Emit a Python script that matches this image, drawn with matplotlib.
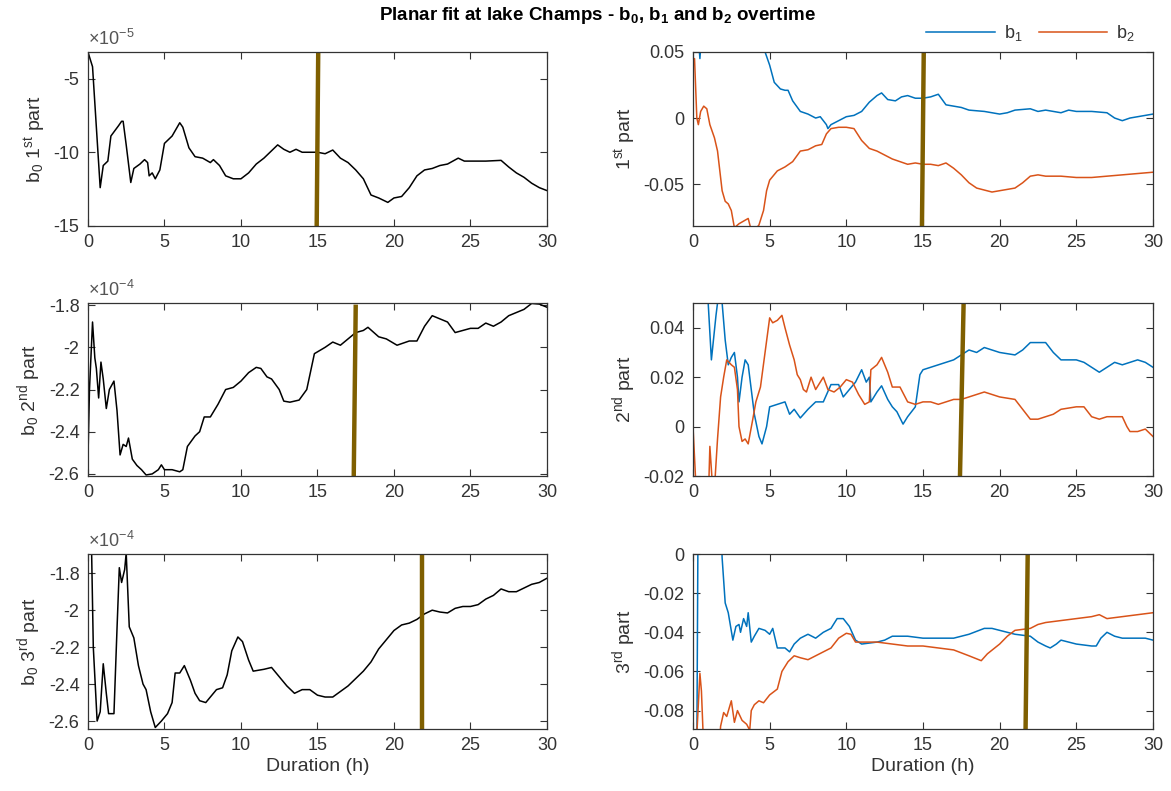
import matplotlib.pyplot as plt
from matplotlib.lines import Line2D

plt.rcParams['font.family'] = ['Liberation Sans', 'DejaVu Sans']
plt.rcParams['mathtext.fontset'] = 'custom'
plt.rcParams['mathtext.rm'] = 'Liberation Sans'
plt.rcParams['mathtext.it'] = 'Liberation Sans'
plt.rcParams['mathtext.bf'] = 'Liberation Sans:bold'
plt.rcParams['axes.unicode_minus'] = False

# b0, 1st part (x 1e-5)
t_b0_1 = [0, 0.3, 0.8, 1.0, 1.3, 1.5, 2.0, 2.2, 2.3, 2.5, 2.8, 3.0, 3.4, 3.7, 3.9, 4.0, 4.2, 4.4, 4.7,
          5.0, 5.5, 6.0, 6.2, 6.6, 7.0, 7.5, 8.0, 8.2, 8.6, 9.0, 9.5, 10.0, 10.5, 11.0, 11.5, 12.0,
          12.4, 12.8, 13.2, 13.6, 14.0, 14.5, 15.0, 15.5, 16.0, 16.5, 17.0, 17.5, 18.0, 18.5, 19.0,
          19.6, 20.0, 20.5, 21.0, 21.5, 22.0, 22.5, 23.0, 23.5, 24.2, 24.6, 25.0, 26.0, 27.0, 27.5,
          28.0, 28.5, 29.0, 29.5, 30.0]
b0_1 = [-3.2, -4.2, -12.4, -10.9, -10.6, -8.9, -8.2, -7.9, -7.9, -9.5, -12.05, -11.1, -10.8, -10.5,
        -10.7, -11.6, -11.4, -11.8, -11.2, -9.4, -8.9, -8.0, -8.3, -9.7, -10.3, -10.4, -10.7, -10.5,
        -10.9, -11.6, -11.8, -11.8, -11.4, -10.8, -10.4, -9.9, -9.5, -9.8, -10.0, -9.8, -10.0, -10.0,
        -10.0, -10.1, -9.85, -10.4, -10.7, -11.2, -11.8, -12.9, -13.1, -13.4, -13.1, -13.0, -12.4,
        -11.6, -11.2, -11.1, -10.9, -10.8, -10.4, -10.6, -10.6, -10.6, -10.55, -11.0, -11.4, -11.7,
        -12.1, -12.4, -12.6]

# b0, 2nd part (x 1e-4)
t_b0_2 = [0, 0.1, 0.3, 0.45, 0.55, 0.7, 0.85, 1.0, 1.2, 1.4, 1.7, 1.9, 2.1, 2.3, 2.5, 2.65, 2.9, 3.2,
          3.5, 3.8, 4.2, 4.6, 4.8, 5.0, 5.5, 6.0, 6.2, 6.5, 7.0, 7.3, 7.6, 8.0, 8.5, 9.0, 9.5, 10.0,
          10.5, 11.0, 11.3, 11.7, 12.0, 12.5, 12.8, 13.2, 13.8, 14.3, 14.8, 15.5, 16.0, 16.5, 17.0,
          17.5, 18.0, 18.3, 19.0, 19.5, 20.2, 21.0, 21.5, 22.0, 22.5, 23.0, 23.5, 24.0, 24.5, 25.0,
          25.5, 26.0, 26.5, 27.0, 27.5, 28.0, 28.5, 29.0, 29.5, 30.0]
b0_2 = [-2.53, -2.2, -1.88, -2.05, -2.1, -2.24, -2.07, -2.15, -2.29, -2.2, -2.16, -2.3, -2.51, -2.46,
        -2.47, -2.43, -2.53, -2.56, -2.58, -2.605, -2.6, -2.58, -2.557, -2.58, -2.58, -2.59, -2.58,
        -2.47, -2.42, -2.40, -2.33, -2.33, -2.27, -2.2, -2.19, -2.16, -2.12, -2.095, -2.1, -2.14,
        -2.15, -2.2, -2.255, -2.26, -2.25, -2.2, -2.03, -2.0, -1.975, -1.99, -1.96, -1.93, -1.92,
        -1.905, -1.95, -1.96, -1.99, -1.97, -1.97, -1.90, -1.85, -1.865, -1.88, -1.93, -1.92, -1.91,
        -1.91, -1.885, -1.9, -1.88, -1.85, -1.835, -1.82, -1.792, -1.795, -1.81]

# b0, 3rd part (x 1e-4)
t_b0_3 = [0, 0.2, 0.35, 0.6, 0.8, 1.0, 1.2, 1.35, 1.7, 1.9, 2.05, 2.2, 2.4, 2.5, 2.7, 3.0, 3.3, 3.6,
          3.8, 4.1, 4.4, 4.8, 5.2, 5.5, 5.7, 6.0, 6.3, 6.7, 7.0, 7.3, 7.7, 8.0, 8.4, 8.8, 9.1, 9.4,
          9.8, 10.1, 10.5, 10.8, 11.5, 12.0, 12.5, 13.0, 13.5, 14.0, 14.5, 15.0, 15.5, 16.0, 16.5,
          17.0, 17.5, 18.0, 18.5, 19.0, 19.5, 20.0, 20.5, 21.0, 21.5, 22.0, 22.5, 23.0, 23.5, 24.0,
          24.5, 25.0, 25.5, 26.0, 26.5, 27.0, 27.5, 28.0, 28.5, 29.0, 29.5, 30.0]
b0_3 = [-1.5, -1.5, -2.2, -2.6, -2.55, -2.29, -2.45, -2.56, -2.56, -2.1, -1.77, -1.85, -1.78, -1.69,
        -2.09, -2.15, -2.3, -2.4, -2.43, -2.55, -2.635, -2.6, -2.56, -2.5, -2.34, -2.34, -2.3, -2.38,
        -2.45, -2.49, -2.5, -2.47, -2.43, -2.42, -2.35, -2.22, -2.145, -2.17, -2.27, -2.33, -2.32,
        -2.31, -2.36, -2.41, -2.45, -2.43, -2.43, -2.46, -2.47, -2.47, -2.44, -2.41, -2.37, -2.33,
        -2.28, -2.21, -2.16, -2.11, -2.08, -2.07, -2.05, -2.02, -2.0, -2.01, -2.015, -1.99, -1.98,
        -1.98, -1.97, -1.94, -1.92, -1.885, -1.9, -1.9, -1.88, -1.86, -1.85, -1.827]

# b1 / b2, 1st part
t_b1_1 = [0, 0.3, 0.45, 0.6, 1.0, 2.0, 3.0, 4.0, 4.6, 4.7, 5.0, 5.3, 5.7, 6.0, 6.2, 6.5, 7.0, 7.5,
          8.0, 8.3, 8.7, 8.8, 9.0, 9.5, 10.0, 10.5, 11.0, 11.5, 12.0, 12.3, 12.7, 13.2, 13.6, 14.0,
          14.5, 15.0, 15.5, 16.0, 16.5, 17.0, 17.5, 18.0, 19.0, 20.0, 20.5, 21.0, 22.0, 22.5, 23.0,
          24.0, 24.5, 25.0, 26.0, 27.0, 27.5, 28.0, 28.5, 29.0, 30.0]
b1_1 = [0.1, 0.07, 0.045, 0.07, 0.09, 0.1, 0.09, 0.07, 0.052, 0.05, 0.04, 0.027, 0.022, 0.021,
        0.021, 0.013, 0.005, 0.003, 0.0, 0.001, -0.005, -0.008, -0.005, -0.002, 0.001, 0.002,
        0.005, 0.012, 0.017, 0.019, 0.014, 0.013, 0.016, 0.017, 0.015, 0.015, 0.016, 0.018, 0.01,
        0.009, 0.008, 0.006, 0.005, 0.003, 0.004, 0.006, 0.007, 0.005, 0.006, 0.004, 0.006, 0.005,
        0.005, 0.004, 0.0, -0.002, 0.0, 0.001, 0.003]
t_b2_1 = [0, 0.1, 0.25, 0.35, 0.5, 0.7, 0.9, 1.1, 1.4, 1.6, 1.9, 2.1, 2.3, 2.5, 2.7, 3.0, 3.3, 3.6,
          3.8, 4.0, 4.3, 4.6, 4.8, 5.0, 5.5, 6.0, 6.5, 7.0, 7.5, 8.0, 8.4, 8.7, 9.0, 9.5, 10.0, 10.5,
          11.0, 11.5, 12.0, 12.5, 13.0, 13.5, 14.0, 14.5, 15.0, 15.5, 16.0, 16.5, 17.0, 17.5, 18.0,
          18.5, 19.5, 20.0, 20.5, 21.0, 21.5, 22.0, 22.5, 23.0, 24.0, 25.0, 26.0, 27.0, 28.0, 29.0,
          30.0]
b2_1 = [0.04, 0.045, 0.0, -0.005, 0.005, 0.009, 0.007, -0.005, -0.015, -0.025, -0.055, -0.063,
        -0.065, -0.07, -0.083, -0.08, -0.078, -0.076, -0.085, -0.085, -0.081, -0.07, -0.055, -0.047,
        -0.04, -0.037, -0.033, -0.025, -0.024, -0.021, -0.02, -0.012, -0.008, -0.007, -0.007, -0.008,
        -0.017, -0.023, -0.025, -0.028, -0.031, -0.033, -0.035, -0.034, -0.035, -0.035, -0.036,
        -0.034, -0.038, -0.043, -0.049, -0.053, -0.056, -0.055, -0.054, -0.053, -0.049, -0.044,
        -0.043, -0.044, -0.044, -0.045, -0.045, -0.044, -0.043, -0.042, -0.041]

# b1 / b2, 2nd part
t_b1_2 = [0, 0.9, 1.2, 1.5, 1.7, 1.9, 2.1, 2.3, 2.5, 2.7, 2.9, 3.0, 3.2, 3.4, 3.6, 3.8, 4.0, 4.3,
          4.5, 4.8, 5.0, 5.5, 6.0, 6.3, 6.6, 7.0, 7.5, 8.0, 8.5, 9.0, 9.5, 9.8, 10.2, 10.6, 11.0,
          11.3, 11.5, 11.6, 12.0, 12.3, 12.7, 13.0, 13.3, 13.7, 14.0, 14.5, 14.8, 15.0, 15.5, 16.0,
          16.5, 17.0, 17.5, 18.0, 18.5, 19.0, 20.0, 21.0, 21.5, 22.0, 23.0, 23.5, 24.0, 25.0, 25.5,
          26.0, 26.5, 27.0, 27.5, 28.0, 28.5, 29.0, 29.5, 30.0]
b1_2 = [0.08, 0.06, 0.027, 0.045, 0.055, 0.05, 0.035, 0.025, 0.028, 0.03, 0.02, 0.01, 0.02, 0.027,
        0.025, 0.015, 0.005, -0.004, -0.007, 0.0, 0.008, 0.009, 0.01, 0.005, 0.007, 0.0035, 0.007,
        0.01, 0.01, 0.017, 0.017, 0.012, 0.015, 0.018, 0.023, 0.018, 0.02, 0.01, 0.014, 0.0165,
        0.011, 0.008, 0.006, 0.001, 0.004, 0.008, 0.021, 0.023, 0.024, 0.025, 0.026, 0.027, 0.029,
        0.031, 0.03, 0.032, 0.03, 0.029, 0.031, 0.034, 0.034, 0.03, 0.027, 0.027, 0.026, 0.024,
        0.022, 0.024, 0.026, 0.025, 0.026, 0.027, 0.026, 0.024]
t_b2_2 = [0, 0.2, 1.0, 1.1, 1.25, 1.4, 1.6, 1.8, 2.0, 2.2, 2.5, 2.7, 2.9, 3.0, 3.2, 3.4, 3.6, 3.9,
          4.1, 4.4, 4.7, 5.0, 5.2, 5.5, 5.8, 6.0, 6.3, 6.6, 6.8, 7.0, 7.2, 7.4, 7.7, 8.0, 8.5, 8.8,
          9.2, 9.6, 10.0, 10.4, 10.8, 11.2, 11.5, 11.6, 12.0, 12.3, 12.7, 13.0, 13.5, 14.0, 14.5,
          15.0, 15.5, 16.0, 16.5, 17.0, 17.5, 18.0, 19.0, 19.5, 20.0, 21.0, 21.5, 22.0, 22.5, 23.0,
          23.5, 24.0, 25.0, 25.5, 26.0, 26.5, 27.0, 28.0, 28.3, 28.5, 29.0, 29.5, 30.0]
b2_2 = [0.0, -0.025, -0.03, -0.008, -0.022, -0.025, -0.005, 0.012, 0.02, 0.027, 0.025, 0.024, 0.015,
        0.0, -0.006, -0.005, -0.007, 0.003, 0.01, 0.016, 0.03, 0.044, 0.042, 0.043, 0.045, 0.04,
        0.033, 0.027, 0.021, 0.019, 0.015, 0.014, 0.02, 0.015, 0.02, 0.015, 0.014, 0.016, 0.019,
        0.018, 0.013, 0.009, 0.01, 0.023, 0.025, 0.028, 0.022, 0.016, 0.016, 0.01, 0.009, 0.01, 0.01,
        0.009, 0.01, 0.011, 0.011, 0.012, 0.014, 0.013, 0.012, 0.011, 0.007, 0.003, 0.003, 0.004,
        0.005, 0.007, 0.008, 0.008, 0.004, 0.003, 0.004, 0.004, 0.0, -0.002, -0.002, -0.001, -0.004]

# b1 / b2, 3rd part
t_b1_3 = [0.25, 0.35, 1.8, 1.9, 2.1, 2.3, 2.6, 2.8, 3.0, 3.1, 3.3, 3.5, 3.6, 3.8, 4.0, 4.3, 4.7, 5.0,
          5.2, 5.5, 6.0, 6.3, 6.6, 7.0, 7.5, 8.0, 8.5, 9.0, 9.4, 9.8, 10.2, 10.6, 11.0, 12.0, 12.5,
          13.0, 14.0, 15.0, 16.0, 17.0, 18.0, 19.0, 19.5, 20.0, 21.0, 22.0, 22.5, 23.0, 23.3, 23.7,
          24.0, 24.5, 25.0, 26.0, 26.3, 26.6, 27.0, 27.5, 28.0, 29.0, 29.5, 30.0]
b1_3 = [-0.1, 0.05, 0.02, -0.002, -0.025, -0.03, -0.044, -0.037, -0.036, -0.04, -0.033, -0.037,
        -0.03, -0.045, -0.042, -0.038, -0.039, -0.041, -0.038, -0.048, -0.048, -0.05, -0.046, -0.043,
        -0.041, -0.043, -0.04, -0.038, -0.033, -0.033, -0.037, -0.044, -0.046, -0.045, -0.044,
        -0.042, -0.042, -0.043, -0.043, -0.043, -0.041, -0.038, -0.038, -0.039, -0.041, -0.042,
        -0.045, -0.047, -0.048, -0.046, -0.044, -0.045, -0.046, -0.047, -0.047, -0.043, -0.04,
        -0.042, -0.043, -0.043, -0.043, -0.044]
t_b2_3 = [0.2, 0.45, 0.55, 0.7, 1.7, 1.8, 2.0, 2.2, 2.5, 2.7, 2.9, 3.2, 3.5, 3.7, 3.8, 4.0, 4.3, 4.6,
          5.0, 5.5, 5.8, 6.2, 6.6, 7.0, 7.5, 8.0, 8.5, 9.0, 9.5, 10.0, 10.3, 10.6, 11.0, 12.0, 13.0,
          14.0, 15.0, 16.0, 17.0, 18.0, 18.8, 19.2, 20.0, 20.5, 21.0, 22.0, 22.5, 23.0, 24.0, 25.0,
          26.0, 26.5, 27.0, 28.0, 29.0, 30.0]
b2_3 = [-0.1, -0.061, -0.07, -0.1, -0.1, -0.088, -0.081, -0.083, -0.075, -0.086, -0.08, -0.085,
        -0.087, -0.09, -0.08, -0.077, -0.075, -0.076, -0.072, -0.069, -0.06, -0.055, -0.052, -0.053,
        -0.054, -0.052, -0.05, -0.048, -0.043, -0.0405, -0.041, -0.045, -0.045, -0.045, -0.046,
        -0.047, -0.047, -0.048, -0.049, -0.052, -0.0545, -0.051, -0.046, -0.042, -0.039, -0.038,
        -0.036, -0.035, -0.034, -0.033, -0.032, -0.031, -0.033, -0.032, -0.031, -0.03]

# brown marker line per row: x at bottom / top, y bottom / top
mark_x = [(14.95, 15.05), (17.37, 17.5), (21.84, 21.84)]
mark_x_right = [(14.93, 15.05), (17.41, 17.65), (21.69, 21.83)]
mark_y_left = [(-15, -3.2), (-2.62, -1.808), (-2.65, -1.69)]
mark_y_right = [(-0.085, 0.05), (-0.021, 0.05), (-0.09, 0.0)]

ylims_left = [(-15, -3.2), (-2.61, -1.79), (-2.643, -1.696)]
yticks_left = [[-15, -10, -5], [-2.6, -2.4, -2.2, -2.0, -1.8], [-2.6, -2.4, -2.2, -2.0, -1.8]]
yticklabels_left = [['-15', '-10', '-5'], ['-2.6', '-2.4', '-2.2', '-2', '-1.8'],
                    ['-2.6', '-2.4', '-2.2', '-2', '-1.8']]
exponents = [r'$\times10^{-5}$', r'$\times10^{-4}$', r'$\times10^{-4}$']
ylabels_left = [r'b$_0$ 1$^{st}$ part', r'b$_0$ 2$^{nd}$ part', r'b$_0$ 3$^{rd}$ part']

ylims_right = [(-0.0817, 0.05), (-0.02, 0.05), (-0.0894, 0.0)]
yticks_right = [[-0.05, 0, 0.05], [-0.02, 0, 0.02, 0.04], [-0.08, -0.06, -0.04, -0.02, 0]]
yticklabels_right = [['-0.05', '0', '0.05'], ['-0.02', '0', '0.02', '0.04'],
                     ['-0.08', '-0.06', '-0.04', '-0.02', '0']]
ylabels_right = [r'1$^{st}$ part', r'2$^{nd}$ part', r'3$^{rd}$ part']

left_data = [(t_b0_1, b0_1), (t_b0_2, b0_2), (t_b0_3, b0_3)]
right_data = [((t_b1_1, b1_1), (t_b2_1, b2_1)),
              ((t_b1_2, b1_2), (t_b2_2, b2_2)),
              ((t_b1_3, b1_3), (t_b2_3, b2_3))]

c_b1 = '#0072BD'
c_b2 = '#D95319'
c_mark = '#7F5F00'
c_axis = '#333333'
fs = 13

fig = plt.figure(figsize=(11.71, 7.91), dpi=100)

row_bottoms = [0.7143, 0.3982, 0.0784]
row_heights = [0.220, 0.2187, 0.2212]


def style(ax):
    ax.set_xlim(0, 30)
    ax.set_xticks([0, 5, 10, 15, 20, 25, 30])
    ax.tick_params(direction='in', top=True, right=True, length=5, width=0.8,
                   labelsize=fs, colors=c_axis, pad=6)
    for s in ax.spines.values():
        s.set_color(c_axis)
        s.set_linewidth(0.9)


for i in range(3):
    axl = fig.add_axes([0.0751, row_bottoms[i], 0.392, row_heights[i]])
    t, v = left_data[i]
    axl.plot(t, v, color='black', lw=1.1)
    axl.plot(mark_x[i], mark_y_left[i], color=c_mark, lw=3.2)
    axl.set_ylim(*ylims_left[i])
    axl.set_yticks(yticks_left[i])
    axl.set_yticklabels(yticklabels_left[i])
    style(axl)
    axl.set_ylabel(ylabels_left[i], fontsize=fs + 1, color=c_axis, labelpad=4)
    axl.text(0, 1.015, exponents[i], transform=axl.transAxes, fontsize=fs,
             color='#555555', ha='left', va='bottom')

    axr = fig.add_axes([0.5918, row_bottoms[i], 0.3928, row_heights[i]])
    (t1, v1), (t2, v2) = right_data[i]
    axr.plot(t1, v1, color=c_b1, lw=1.1)
    axr.plot(t2, v2, color=c_b2, lw=1.1)
    axr.plot(mark_x_right[i], mark_y_right[i], color=c_mark, lw=3.2)
    axr.set_ylim(*ylims_right[i])
    axr.set_yticks(yticks_right[i])
    axr.set_yticklabels(yticklabels_right[i])
    style(axr)
    axr.set_ylabel(ylabels_right[i], fontsize=fs + 1, color=c_axis, labelpad=4)

    if i == 2:
        axl.set_xlabel('Duration (h)', fontsize=fs + 1, color=c_axis, labelpad=3)
        axr.set_xlabel('Duration (h)', fontsize=fs + 1, color=c_axis, labelpad=3)

fig.text(0.51, 0.981, r'Planar fit at lake Champs - b$_\mathbf{0}$, b$_\mathbf{1}$ and b$_\mathbf{2}$ overtime',
         fontsize=13.5, fontweight='bold', ha='center', va='center')

handles = [Line2D([0], [0], color=c_b1, lw=1.1), Line2D([0], [0], color=c_b2, lw=1.1)]
fig.legend(handles, [r'b$_1$', r'b$_2$'], loc='center', bbox_to_anchor=(0.88, 0.958), ncol=2,
           frameon=False, fontsize=fs, handlelength=3.8, columnspacing=0.9, handletextpad=0.5,
           labelcolor=c_axis)

fig.savefig('out.png', dpi=100)
